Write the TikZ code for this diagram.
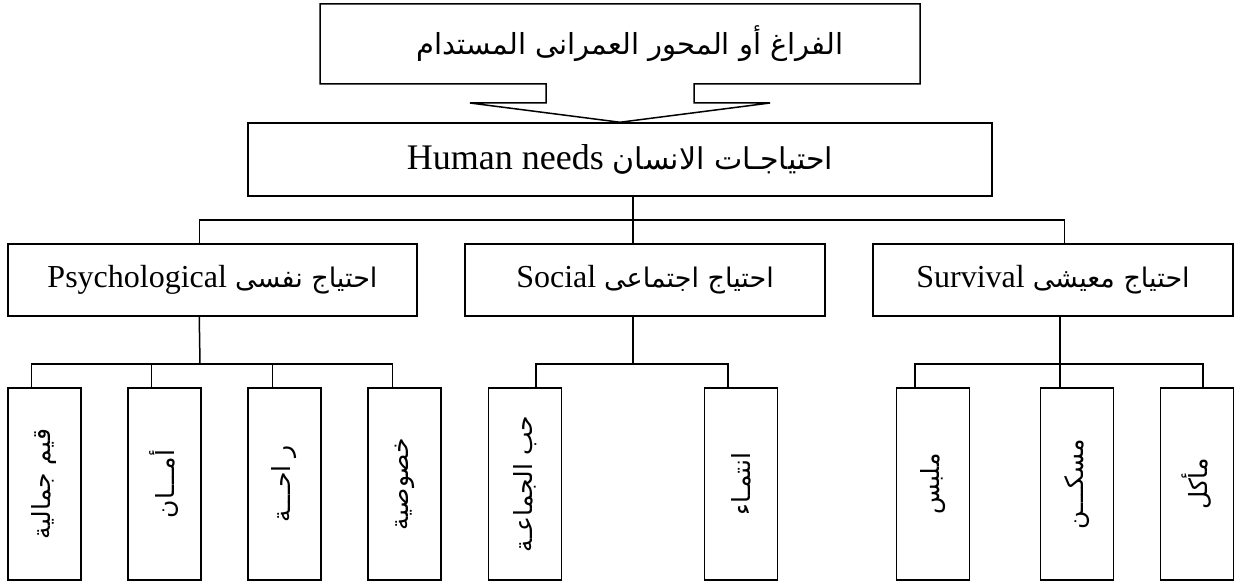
\documentclass[tikz,border=0pt]{standalone}
\usepackage{fontspec}
\usepackage{graphicx}
\setmainfont{Liberation Serif}
\newfontfamily\arabicfont[Script=Arabic]{DejaVu Sans}
\TeXXeTstate=1
\usetikzlibrary{calc}

% Arabic text in a given size
\newcommand{\artext}[2][26]{{\arabicfont\fontsize{#1}{#1}\selectfont #2}}

\tikzset{
    box/.style={draw, line width=1.5pt, inner sep=0pt, font=\fontsize{32}{36}\selectfont},
    needbox/.style={box, minimum width=360pt, minimum height=72pt},
    leaf/.style={box, minimum width=73pt, minimum height=192pt},
    link/.style={line width=1.5pt}
}

\begin{document}
\begin{tikzpicture}[x=1pt, y=-1pt]

\fill[white] (0,0) rectangle (1235,583);
\useasboundingbox (0,0) rectangle (1235,583);

% Main box and its arrow
\node[box, minimum width=744pt, minimum height=73pt, font=\fontsize{36}{40}\selectfont] (hn) at (620,159.5)
    {\beginR\artext[30]{احتياجـات الانسان} \beginL Human needs\endL\endR};

\draw[link] (320,4) -- (920,4) -- (920,84) -- (694,84) -- (694,103) -- (770,103)
    -- (hn.north) -- (470,103) -- (546,103) -- (546,84) -- (320,84) -- cycle;
\node (space) at (630,44) {\artext[29]{\beginR الفراغ أو المحور العمرانى المستدام\endR}};

% The three needs
\node[needbox, minimum width=409pt] (psy) at (212.5,280) {\beginR\artext[27]{احتياج نفسى} \beginL Psychological\endL\endR};
\node[needbox] (soc) at (645,280) {\beginR\artext[27]{احتياج اجتماعى} \beginL Social\endL\endR};
\node[needbox] (sur) at (1053,280) {\beginR\artext[27]{احتياج معيشى} \beginL Survival\endL\endR};

\coordinate (j0) at (633,220);
\draw[link] (hn.south -| j0) -- (soc.north -| j0);
\draw[link] ($(psy.north west)+(192,0)$) |- (j0) -| ($(sur.north west)+(192,0)$);

% Loop to draw the small boxes
\foreach \n/\x/\t in {p1/44.5/قيم جمالية, p2/164.5/أمـــان, p3/284.5/ر احـــة, p4/404.5/خصوصية,
                      s1/525/حب الجماعـة, s2/741/انتمـاء,
                      v1/933/ملبس, v2/1077/مسكـــن, v3/1197/مأكل} {
    \node[leaf] (\n) at (\x,484) {\rotatebox{90}{\artext[25]{\beginR\t\endR}}};
}

% Links of the psychological needs
\coordinate (psyj) at (200,364);
\draw[link] ($(psy.south west)+(192,0)$) -- (psyj);
\foreach \n/\off in {p1/24, p2/24, p3/25, p4/25} {
    \draw[link] ($(\n.north west)+(\off,0)$) |- (psyj);
}

% Links of the social needs
\coordinate (socj) at (633,364);
\draw[link] (soc.south -| socj) -- (socj);
\foreach \n/\off in {s1/48, s2/24} {
    \draw[link] ($(\n.north west)+(\off,0)$) |- (socj);
}

% Links of the survival needs
\coordinate (surj) at (1060,364);
\draw[link] (sur.south -| surj) -- (v2.north -| surj);
\foreach \n/\off in {v1/19, v3/43} {
    \draw[link] ($(\n.north west)+(\off,0)$) |- (surj);
}

\end{tikzpicture}
\end{document}
